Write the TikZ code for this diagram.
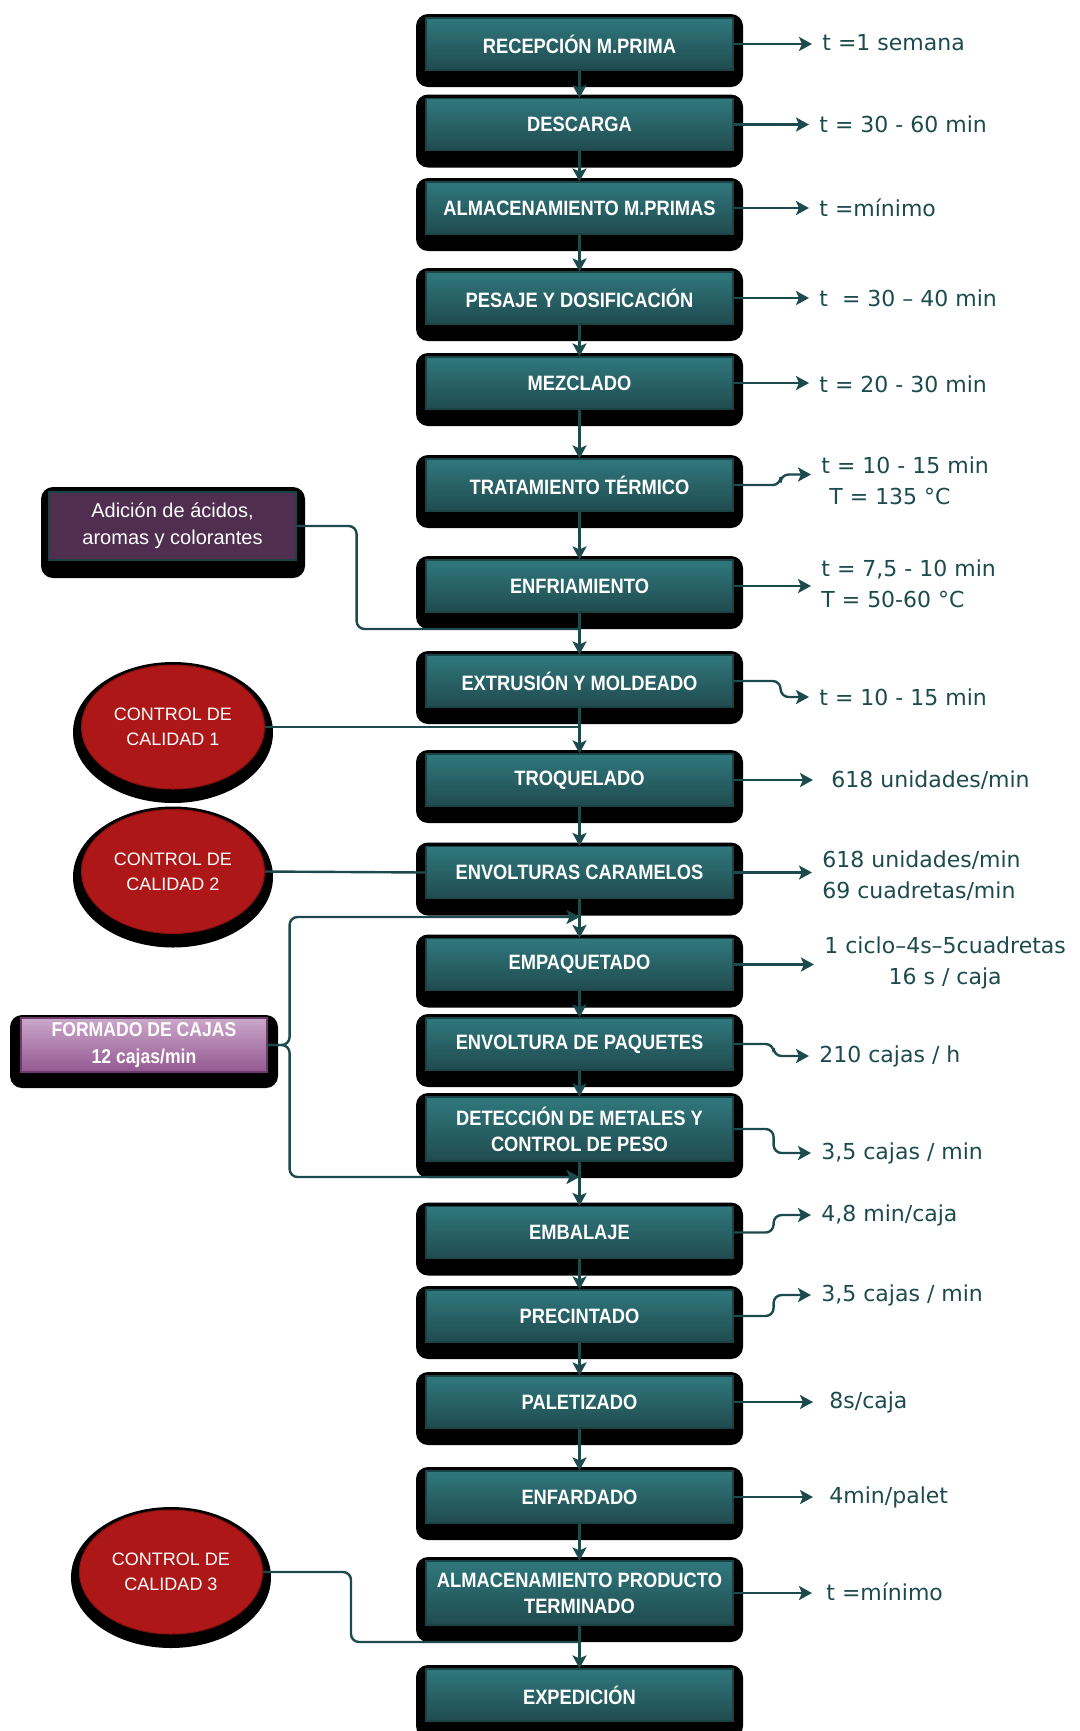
\documentclass[tikz,border=0pt]{standalone}
\usepackage{fontspec}
\usepackage{tikz}
\usepackage{xcolor}
\setmainfont{Liberation Sans}
\newfontfamily\datos{DejaVu Sans}
\newfontfamily\estrecha[FakeStretch=0.88]{Liberation Sans}
\usetikzlibrary{shapes.geometric, arrows.meta}

\definecolor{tealclaro}{HTML}{2F787D}
\definecolor{tealoscuro}{HTML}{204B4F}
\definecolor{tealborde}{HTML}{1A4346}
\definecolor{linea}{HTML}{1C4A4D}
\definecolor{rojo}{HTML}{AD1717}
\definecolor{rojoborde}{HTML}{8A1010}
\definecolor{ciruela}{HTML}{4F2E4F}
\definecolor{rosaclaro}{HTML}{CBA7CB}
\definecolor{rosaoscuro}{HTML}{935890}
\definecolor{morado}{HTML}{6E3C6B}

% etapa: [alto]{nombre}{y}{texto}
\newcommand{\etapa}[4][52]{%
  \fill[black, rounded corners=6pt] (416,{#3-#1/2-4}) rectangle (743,{#3+#1/2+17});
  \node[etapa, minimum height=#1*0.5pt] at (579.5,#3) (#2) {#4};}
% calidad: {nombre}{x}{y}{texto}
\newcommand{\calidad}[4]{%
  \fill[black] (#2,{#3+5.5}) ellipse [x radius=100, y radius=70.5];
  \node[control] at (#2,#3) (#1) {#4};}

\begin{document}
\begin{tikzpicture}[x=0.5pt, y=-0.5pt,
    etapa/.style={draw=tealborde, line width=0.6pt, top color=tealclaro, bottom color=tealoscuro,
      minimum width=153.5pt, inner sep=0pt, text=white, align=center,
      font=\estrecha\fontsize{10.4}{13}\selectfont\bfseries},
    control/.style={ellipse, fill=rojo, draw=rojoborde, line width=0.5pt, minimum width=91.5pt,
      minimum height=62pt, inner sep=0pt, text=white, align=center,
      font=\fontsize{9}{12.5}\selectfont},
    dato/.style={anchor=west, inner sep=0pt, text=linea, align=left,
      font=\datos\fontsize{11}{15.5}\selectfont},
    flecha/.style={draw=linea, line width=1.2pt, -{Stealth[width=7pt, length=6.5pt, inset=1.5pt]}},
    salida/.style={flecha, shorten >=5pt},
    union/.style={draw=linea, line width=1.2pt, rounded corners=4pt}]
  \useasboundingbox (0,0) rectangle (1080,1731);

  % columna principal
  \etapa{recepcion}{44}{RECEPCIÓN M.PRIMA}
  \etapa{descarga}{124.5}{DESCARGA}
  \etapa{almacen}{208}{ALMACENAMIENTO M.PRIMAS}
  \etapa{pesaje}{298}{PESAJE Y DOSIFICACIÓN}
  \etapa{mezclado}{383}{MEZCLADO}
  \etapa{tratamiento}{485}{TRATAMIENTO TÉRMICO}
  \etapa{enfriamiento}{586}{ENFRIAMIENTO}
  \etapa{extrusion}{681}{EXTRUSIÓN Y MOLDEADO}
  \etapa{troquelado}{780}{TROQUELADO}
  \etapa{envolturas}{872.5}{ENVOLTURAS CARAMELOS}
  \etapa{empaquetado}{964.5}{EMPAQUETADO}
  \etapa{paquetes}{1044}{ENVOLTURA DE PAQUETES}
  \etapa[64]{deteccion}{1129}{DETECCIÓN DE METALES Y\\CONTROL DE PESO}
  \etapa{embalaje}{1232.5}{EMBALAJE}
  \etapa{precintado}{1316}{PRECINTADO}
  \etapa{paletizado}{1402}{PALETIZADO}
  \etapa{enfardado}{1497}{ENFARDADO}
  \etapa[64]{almacenpt}{1593}{ALMACENAMIENTO PRODUCTO\\TERMINADO}
  \etapa{expedicion}{1695}{EXPEDICIÓN}

  % entradas laterales
  \fill[black, rounded corners=6pt] (41,487) rectangle (305,578);
  \node[draw=tealborde, line width=0.6pt, fill=ciruela, minimum width=123.5pt, minimum height=34pt,
    inner sep=0pt, text=white, align=center, font=\fontsize{10}{13.5}\selectfont]
    at (172.5,526) (adicion) {Adición de ácidos,\\aromas y colorantes};

  \fill[black, rounded corners=6pt] (10,1015) rectangle (278,1088);
  \node[draw=morado, line width=0.6pt, top color=rosaclaro, bottom color=rosaoscuro,
    minimum width=123pt, minimum height=27pt, inner sep=0pt, text=white, align=center,
    font=\estrecha\fontsize{10}{13.5}\selectfont\bfseries]
    at (144,1045) (formado) {FORMADO DE CAJAS\\12 cajas/min};

  \calidad{cc1}{173}{727}{CONTROL DE\\CALIDAD 1}
  \calidad{cc2}{173}{871.5}{CONTROL DE\\CALIDAD 2}
  \calidad{cc3}{171}{1572}{CONTROL DE\\CALIDAD 3}

  % tiempos
  \node[dato] at (822,43) (d1) {t =1 semana};
  \node[dato] at (819,124) (d2) {t = 30 - 60 min};
  \node[dato] at (819,208) (d3) {t =mínimo};
  \node[dato] at (819,298) (d4) {t\ \ = 30 – 40 min};
  \node[dato] at (819,384) (d5) {t = 20 - 30 min};
  \node[dato] at (821,480.5) (d6) {t = 10 - 15 min\\\hspace{4pt}T = 135 °C};
  \node[dato] at (821,583.5) (d7) {t = 7,5 - 10 min\\T = 50-60 °C};
  \node[dato] at (819,697) (d8) {t = 10 - 15 min};
  \node[dato] at (831,780) (d9) {618 unidades/min};
  \node[dato] at (822,875.5) (d10) {618 unidades/min\\69 cuadretas/min};
  \node[dato, align=center] at (824,962.5) (d11) {1 ciclo–4s–5cuadretas\\16 s / caja};
  \node[dato] at (819,1056) (d12) {210 cajas / h};
  \node[dato] at (821,1153) (d13) {3,5 cajas / min};
  \node[dato] at (821,1215) (d14) {4,8 min/caja};
  \node[dato] at (821,1295) (d15) {3,5 cajas / min};
  \node[dato] at (829,1402) (d16) {8s/caja};
  \node[dato] at (829,1497) (d17) {4min/palet};
  \node[dato] at (826,1592) (d18) {t =mínimo};

  \foreach \a/\b in {recepcion/descarga, descarga/almacen, almacen/pesaje, pesaje/mezclado,
      mezclado/tratamiento, tratamiento/enfriamiento, enfriamiento/extrusion,
      extrusion/troquelado, troquelado/envolturas, envolturas/empaquetado,
      empaquetado/paquetes, paquetes/deteccion, deteccion/embalaje, embalaje/precintado,
      precintado/paletizado, paletizado/enfardado, enfardado/almacenpt, almacenpt/expedicion}
    \draw[flecha] (\a) -- (\b);

  \coordinate (j0) at (579.5,629);
  \coordinate (j1) at (579.5,917);
  \coordinate (j2) at (579.5,1177);
  \coordinate (j3) at (579.5,1642);
  \draw[union] (adicion.east) -- ++(60,0) |- (j0);
  \draw[union] (cc1.east) -- (cc1.east -| extrusion.south);
  \draw[union] (cc2.east) -- (envolturas.west);
  \draw[flecha, rounded corners=4pt] (formado.east) -- ++(22,0) |- (j1);
  \draw[flecha, rounded corners=4pt] (formado.east) -- ++(22,0) |- (j2);
  \draw[union] (cc3.east) -- ++(88,0) |- (j3);

  \draw[salida] (recepcion.east) -- (recepcion.east -| d1.west);
  \draw[salida] (descarga.east) -- (descarga.east -| d2.west);
  \draw[salida] (almacen.east) -- (almacen.east -| d3.west);
  \draw[salida] (pesaje.east) -- (pesaje.east -| d4.west);
  \draw[salida] (mezclado.east) -- (mezclado.east -| d5.west);
  \draw[salida, rounded corners=4pt] (tratamiento.east) -- ++(47,0) |- ([yshift=3pt]d6.west);
  \draw[salida] (enfriamiento.east) -- (enfriamiento.east -| d7.west);
  \draw[salida, rounded corners=4pt] (extrusion.east) -- ++(47,0) |- (d8.west);
  \draw[salida, shorten >=9pt] (troquelado.east) -- (troquelado.east -| d9.west);
  \draw[salida] (envolturas.east) -- (envolturas.east -| d10.west);
  \draw[salida] (empaquetado.east) -- (empaquetado.east -| d11.west);
  \draw[salida, rounded corners=4pt] (paquetes.east) -- ++(40,0) |- (d12.west);
  \draw[salida, rounded corners=4pt] (deteccion.east) -- ++(40,0) |- (d13.west);
  \draw[salida, rounded corners=4pt] (embalaje.east) -- ++(40,0) |- (d14.west);
  \draw[salida, rounded corners=4pt] (precintado.east) -- ++(40,0) |- (d15.west);
  \draw[salida, shorten >=8pt] (paletizado.east) -- (paletizado.east -| d16.west);
  \draw[salida, shorten >=8pt] (enfardado.east) -- (enfardado.east -| d17.west);
  \draw[salida, shorten >=7pt] (almacenpt.east) -- (almacenpt.east -| d18.west);
\end{tikzpicture}
\end{document}
